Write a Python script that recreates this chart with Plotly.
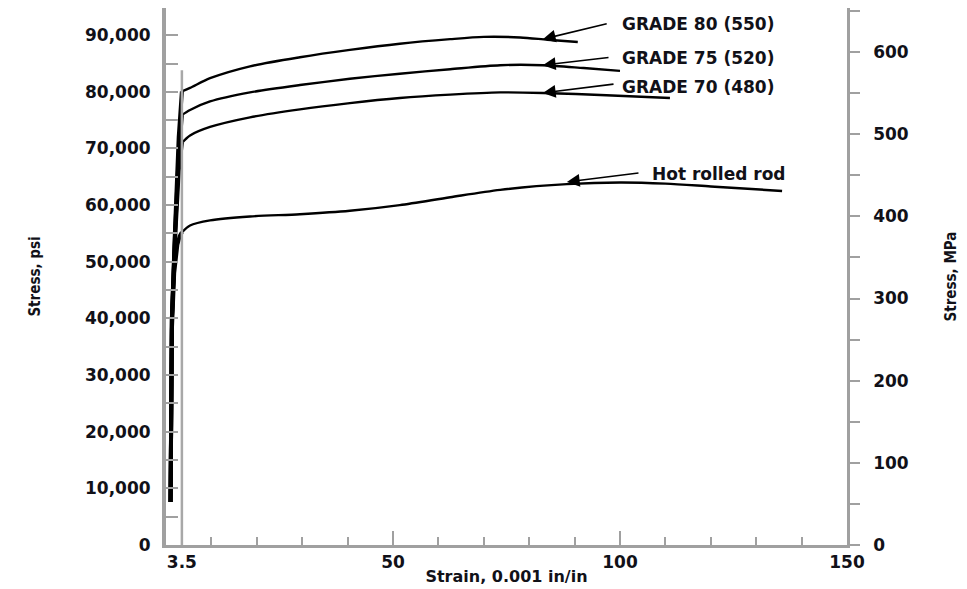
import plotly.graph_objects as go

# ---- data (strain in 0.001 in/in, stress in psi) ----
g80_strain = [1.0, 1.3, 2.0, 2.8, 3.5, 5.3, 9.7, 18.5, 29.5, 40.5, 51.5, 62.6, 70.0, 78.0, 84.0, 90.7]
g80_stress = [7600, 40000, 56000, 72000, 80100, 80700, 82400, 84500, 86100, 87400, 88500, 89300, 89700, 89600, 89200, 88800]

g75_strain = [1.0, 1.3, 2.0, 2.8, 3.5, 5.3, 9.7, 18.5, 29.5, 40.5, 51.5, 62.6, 73.6, 83.0, 92.0, 100.0]
g75_stress = [7600, 40000, 55000, 69000, 75900, 76800, 78300, 79900, 81200, 82300, 83200, 84000, 84700, 84700, 84200, 83700]

g70_strain = [1.0, 1.3, 2.0, 2.8, 3.5, 5.3, 9.7, 18.5, 29.5, 40.5, 51.5, 62.6, 73.6, 83.0, 97.0, 111.0]
g70_stress = [7600, 40000, 54000, 66000, 71000, 72300, 73800, 75500, 76900, 78000, 78900, 79500, 79900, 79800, 79400, 78900]

hr_strain = [1.0, 1.3, 1.8, 2.5, 3.0, 3.5, 5.3, 9.7, 18.5, 29.5, 40.5, 51.5, 62.6, 73.6, 88.3, 100.0, 110.0, 120.0, 135.7]
hr_stress = [7600, 38000, 48000, 53000, 54500, 55200, 56400, 57300, 58000, 58400, 59000, 60000, 61400, 62700, 63700, 64000, 63800, 63300, 62500]

curve_names = ["GRADE 80 (550)", "GRADE 75 (520)", "GRADE 70 (480)", "Hot rolled rod"]
elastic_end = [4, 4, 4, 5]  # index where plastic part begins

# arrow heads (on curve) and tails, label anchors
arrow_head_x = [83.0, 83.0, 83.0, 88.3]
arrow_head_y = [89300, 84700, 79800, 64100]
arrow_tail_x = [97.4, 97.8, 98.9, 104.4]
arrow_tail_y = [92100, 86100, 81400, 65700]
label_x = [100.0, 100.0, 100.0, 106.6]
label_y = [92000, 86000, 80800, 65500]

psi_ticks = [0, 10000, 20000, 30000, 40000, 50000, 60000, 70000, 80000, 90000]
mpa_ticks = [0, 100, 200, 300, 400, 500, 600]
strain_ticks = [3.5, 50, 100, 150]

PSI_PER_MPA = 145.038
Y_MAX = 94800

curves = [(g80_strain, g80_stress), (g75_strain, g75_stress),
          (g70_strain, g70_stress), (hr_strain, hr_stress)]

fig = go.Figure()
for (sx, sy), name, k in zip(curves, curve_names, elastic_end):
    # elastic (steep) portion
    fig.add_trace(go.Scatter(x=sx[:k + 1], y=sy[:k + 1], mode="lines",
                             line=dict(color="black", width=4),
                             showlegend=False, hoverinfo="skip"))
    # plastic portion
    fig.add_trace(go.Scatter(x=sx[k:], y=sy[k:], mode="lines", name=name,
                             line=dict(color="black", width=2.4, shape="spline", smoothing=0.8),
                             showlegend=False))

# invisible trace for secondary axis
fig.add_trace(go.Scatter(x=[0], y=[0], yaxis="y2", mode="markers",
                         marker=dict(opacity=0), showlegend=False, hoverinfo="skip"))

# 3.5 reference line
fig.add_shape(type="line", x0=3.5, x1=3.5, y0=0, y1=83800, xref="x", yref="y",
              line=dict(color="#a8a8a8", width=2.5))

dark = "#111118"
txt_font = dict(family="DejaVu Sans", size=17, color=dark, weight="bold")

for i, name in enumerate(curve_names):
    fig.add_annotation(x=arrow_head_x[i], y=arrow_head_y[i], ax=arrow_tail_x[i], ay=arrow_tail_y[i],
                       xref="x", yref="y", axref="x", ayref="y", text="", showarrow=True,
                       arrowhead=2, arrowsize=1.6, arrowwidth=1.6, arrowcolor="black")
    fig.add_annotation(x=label_x[i], y=label_y[i], xref="x", yref="y", text=name,
                       showarrow=False, xanchor="left", yanchor="middle", font=txt_font)

axis_gray = "#a0a0a0"
tick_font = dict(family="DejaVu Sans", size=17, color=dark, weight="bold")
side_title_font = dict(family="Liberation Sans Narrow, DejaVu Sans Condensed, Liberation Sans",
                       size=15, color=dark, weight="bold")

fig.update_layout(
    width=959, height=581,
    margin=dict(l=158, r=120, t=0, b=44),
    paper_bgcolor="white", plot_bgcolor="white",
    xaxis=dict(range=[0, 150], tickvals=strain_ticks, ticktext=["3.5", "50", "100", "150"],
               ticks="inside", ticklen=14, tickwidth=1.5, tickcolor=axis_gray,
               minor=dict(dtick=10, tick0=0, ticks="inside", ticklen=8, tickcolor=axis_gray, tickwidth=1.5),
               showline=True, linecolor=axis_gray, linewidth=2.5, mirror=True,
               showgrid=False, zeroline=False, tickfont=tick_font, ticklabelstandoff=0,
               title=dict(text="Strain, 0.001 in/in", standoff=0,
                          font=dict(family="DejaVu Sans", size=16, color=dark, weight="bold")),
               automargin=False),
    yaxis=dict(range=[0, Y_MAX], tickvals=psi_ticks, tickformat=",d",
               ticks="inside", ticklen=12, tickwidth=1.5, tickcolor=axis_gray,
               minor=dict(dtick=5000, tick0=0, ticks="inside", ticklen=12, tickcolor=axis_gray, tickwidth=1.5),
               showline=True, linecolor=axis_gray, linewidth=4,
               showgrid=False, zeroline=False, tickfont=tick_font, ticklabelstandoff=8,
               title=dict(text="Stress, psi", standoff=42, font=side_title_font),
               automargin=False),
    yaxis2=dict(range=[0, Y_MAX / PSI_PER_MPA], tickvals=mpa_ticks, overlaying="y", side="right",
                ticks="outside", ticklen=10, tickwidth=1.5, tickcolor=axis_gray,
                minor=dict(dtick=50, tick0=0, ticks="outside", ticklen=10, tickcolor=axis_gray, tickwidth=1.5),
                showline=True, linecolor=axis_gray, linewidth=2.5,
                showgrid=False, zeroline=False, tickfont=tick_font, ticklabelstandoff=10,
                title=dict(text="Stress, MPa", standoff=38, font=side_title_font),
                automargin=False),
    showlegend=False,
)

fig.write_html("out.html")
